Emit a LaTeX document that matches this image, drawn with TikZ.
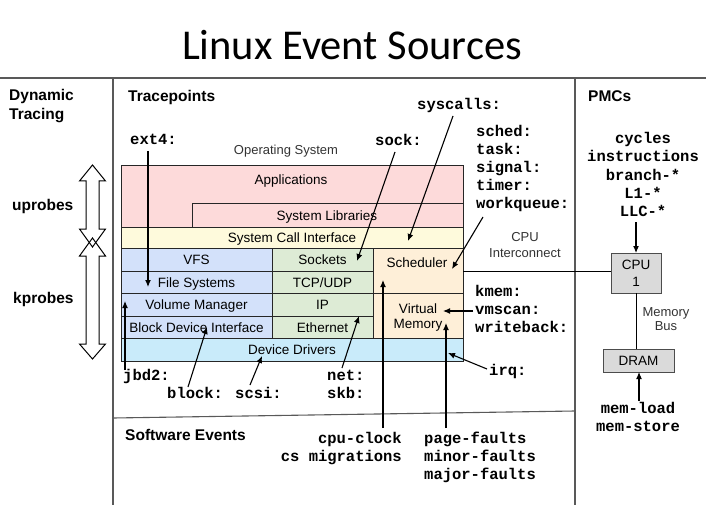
\documentclass[tikz,border=0pt]{standalone}
\usepackage{fontspec}
\setmainfont{Liberation Sans}
\newfontfamily\titlefont{Carlito}
\newfontfamily\codefont{Liberation Mono}
\usetikzlibrary{arrows.meta}
\definecolor{appc}{HTML}{FDDADA}
\definecolor{sysc}{HTML}{FEFADC}
\definecolor{bluec}{HTML}{D3E1FA}
\definecolor{greenc}{HTML}{DDEBD5}
\definecolor{orangec}{HTML}{FEEFD8}
\definecolor{devc}{HTML}{C9EBFA}
\definecolor{cpuc}{HTML}{DADADA}
\tikzset{
  sec/.style={draw=black!65, line width=1.1pt},
  layer/.style={draw=black!85, line width=0.7pt},
  boxtxt/.style={inner sep=0, anchor=base, font=\fontsize{13.5}{16}\selectfont},
  heading/.style={inner sep=0, anchor=base west, font=\bfseries\fontsize{15.5}{18}\selectfont},
  code/.style={inner sep=0, font=\codefont\bfseries\fontsize{15.5}{18}\selectfont},
  note/.style={inner sep=0, anchor=base, text=black!80, font=\fontsize{13}{15}\selectfont},
  arr/.style={line width=1.1pt, -{Latex[length=7pt,width=6pt]}},
  dblarrow/.style={draw, line width=1pt, line join=miter},
}
\begin{document}
\begin{tikzpicture}[x=1pt,y=-1pt]
\useasboundingbox (0,0) rectangle (706,505);
% title
\node[inner sep=0, anchor=base, font=\titlefont\fontsize{42.5}{48}\selectfont] (title) at (352,60) {Linux Event Sources};
% section lines
\draw[sec] (0,78) -- (706,78);
\draw[sec] (113,78) -- (113,505);
\draw[sec] (575,78) -- (575,505);
\draw[sec] (113,418) -- (575,411);
% headings
\node[heading] (dyn1) at (9,101) {Dynamic};
\node[heading] (dyn2) at (9,120) {Tracing};
\node[heading] (tp) at (128,102) {Tracepoints};
\node[heading] (pmc) at (588,102) {PMCs};
\node[heading] (up) at (12,210) {uprobes};
\node[heading] (kp) at (13,303) {kprobes};
\node[heading] (swe) at (125,440) {Software Events};
% double arrows
\draw[dblarrow] (92.5,165) -- (105.5,181) -- (99,181) -- (99,229) -- (105.5,229) -- (92.5,247) -- (79.5,229) -- (86,229) -- (86,181) -- (79.5,181) -- cycle;
\draw[dblarrow] (92.5,238) -- (105.5,256) -- (99,256) -- (99,344) -- (105.5,344) -- (92.5,359) -- (79.5,344) -- (86,344) -- (86,256) -- (79.5,256) -- cycle;
% OS
\node[note] (os) at (286,155) {Operating System};
\path[layer, fill=appc] (121,165) rectangle (463,227);
\path[layer] (192,203) rectangle (463,227);
\path[layer, fill=sysc] (121,227) rectangle (463,248);
\path[layer, fill=bluec] (121,248) rectangle (272,271);
\path[layer, fill=bluec] (121,271) rectangle (272,293);
\path[layer, fill=bluec] (121,293) rectangle (272,316);
\path[layer, fill=bluec] (121,316) rectangle (272,338);
\path[layer, fill=greenc] (272,248) rectangle (373,271);
\path[layer, fill=greenc] (272,271) rectangle (373,293);
\path[layer, fill=greenc] (272,293) rectangle (373,316);
\path[layer, fill=greenc] (272,316) rectangle (373,338);
\path[layer, fill=orangec] (373,248) rectangle (463,293);
\path[layer, fill=orangec] (373,293) rectangle (463,338);
\path[layer, fill=devc] (121,338) rectangle (463,361);
\node[boxtxt] (apps) at (291,185) {Applications};
\node[boxtxt] (libs) at (327,220) {System Libraries};
\node[boxtxt] (sci) at (292,242) {System Call Interface};
\node[boxtxt] (vfs) at (196.5,264) {VFS};
\node[boxtxt] (fs) at (196.5,287) {File Systems};
\node[boxtxt] (vm) at (196.5,309) {Volume Manager};
\node[boxtxt] (bdi) at (196.5,332) {Block Device Interface};
\node[boxtxt] (sockets) at (322.5,264) {Sockets};
\node[boxtxt] (tcp) at (322.5,287) {TCP/UDP};
\node[boxtxt] (ip) at (322.5,309) {IP};
\node[boxtxt] (eth) at (322.5,332) {Ethernet};
\node[boxtxt] (sched) at (417,267) {Scheduler};
\node[boxtxt] (virt1) at (418,313) {Virtual};
\node[boxtxt] (virt2) at (418,328) {Memory};
\node[boxtxt] (dd) at (292,354) {Device Drivers};
% CPU side
\node[note] (ci1) at (525,241) {CPU};
\node[note] (ci2) at (525,257) {Interconnect};
\path[draw=black!70, line width=0.9pt, fill=cpuc] (611,253) rectangle (661,293);
\node[boxtxt] (cpu1) at (636,269) {CPU};
\node[boxtxt] (cpu2) at (636,286) {1};
\path[draw=black!70, line width=0.9pt, fill=cpuc] (603,349) rectangle (674,372);
\node[boxtxt] (dram) at (638.5,365) {DRAM};
\node[note] (mb1) at (666,316) {Memory};
\node[note] (mb2) at (666,330) {Bus};
\coordinate (osR) at (463,271);
\coordinate (cpuL) at (611,271);
\coordinate (cpuB) at (636,293);
\coordinate (dramT) at (636,349);
\draw[line width=1pt] (osR) -- (cpuL);
\draw[line width=1pt] (cpuB) -- (dramT);
% tracepoint labels
\node[code, anchor=base west] (ext4) at (130,145) {ext4:};
\node[code, anchor=base west] (sock) at (375,146) {sock:};
\node[code, anchor=base west] (syscalls) at (417,110) {syscalls:};
\node[code, anchor=base west] (l1) at (476,137) {sched:};
\node[code, anchor=base west] (l2) at (476,155) {task:};
\node[code, anchor=base west] (l3) at (476,173) {signal:};
\node[code, anchor=base west] (l4) at (476,190) {timer:};
\node[code, anchor=base west] (l5) at (476,208) {workqueue:};
\node[code, anchor=base west] (kmem) at (475,296) {kmem:};
\node[code, anchor=base west] (vmscan) at (475,314) {vmscan:};
\node[code, anchor=base west] (wb) at (475,332) {writeback:};
\node[code, anchor=base west] (irq) at (489,375) {irq:};
\node[code, anchor=base west] (jbd2) at (123,380) {jbd2:};
\node[code, anchor=base west] (block) at (167,398) {block:};
\node[code, anchor=base west] (scsi) at (235,398) {scsi:};
\node[code, anchor=base west] (net) at (327,380) {net:};
\node[code, anchor=base west] (skb) at (327,398) {skb:};
\node[code, anchor=base east] (cpuclk) at (402,443) {cpu-clock};
\node[code, anchor=base east] (csmig) at (402,461) {cs migrations};
\node[code, anchor=base west] (pf1) at (424,443) {page-faults};
\node[code, anchor=base west] (pf2) at (424,461) {minor-faults};
\node[code, anchor=base west] (pf3) at (424,479) {major-faults};
% PMCs
\node[code, anchor=base] (p1) at (643,144) {cycles};
\node[code, anchor=base] (p2) at (643,162) {instructions};
\node[code, anchor=base] (p3) at (643,180) {branch-*};
\node[code, anchor=base] (p4) at (643,198) {L1-*};
\node[code, anchor=base] (p5) at (643,216) {LLC-*};
\node[code, anchor=base] (ml) at (638,413) {mem-load};
\node[code, anchor=base] (ms) at (638,431) {mem-store};
% arrow end points
\coordinate (ext4s) at (148,151);   \coordinate (ext4t) at (148,287);
\coordinate (socks) at (395,152);   \coordinate (sockt) at (357,261);
\coordinate (syss) at (453,116);    \coordinate (syst) at (408,241);
\coordinate (wqs) at (483,217);     \coordinate (wqt) at (452,269);
\coordinate (vms) at (473,311);     \coordinate (vmt) at (443,311);
\coordinate (irqs) at (487,369);    \coordinate (irqt) at (448,353);
\coordinate (jbds) at (125,370);    \coordinate (jbdt) at (125,301);
\coordinate (blks) at (188,387);    \coordinate (blkt) at (207,327);
\coordinate (scss) at (250,385);    \coordinate (scst) at (262,356);
\coordinate (nets) at (342,368);    \coordinate (nett) at (359,316);
\coordinate (ccs) at (383,428);     \coordinate (cct) at (383,280);
\coordinate (pfs) at (446,428);     \coordinate (pft) at (446,323);
\coordinate (llcs) at (636,222);    \coordinate (llct) at (636,253);
\coordinate (mls) at (639,401);     \coordinate (mlt) at (639,372);
\draw[arr] (ext4s) -- (ext4t);
\draw[arr] (socks) -- (sockt);
\draw[arr] (syss) -- (syst);
\draw[arr] (wqs) -- (wqt);
\draw[arr] (vms) -- (vmt);
\draw[arr] (irqs) -- (irqt);
\draw[arr] (jbds) -- (jbdt);
\draw[arr] (blks) -- (blkt);
\draw[arr] (scss) -- (scst);
\draw[arr] (nets) -- (nett);
\draw[arr] (ccs) -- (cct);
\draw[arr] (pfs) -- (pft);
\draw[arr] (llcs) -- (llct);
\draw[arr] (mls) -- (mlt);
\end{tikzpicture}
\end{document}
